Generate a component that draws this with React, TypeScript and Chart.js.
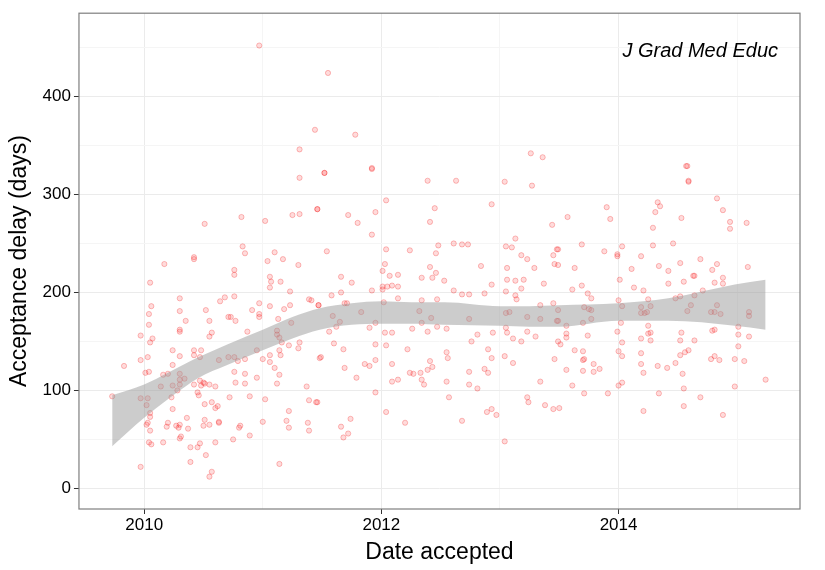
import { useEffect, useRef } from "react";
import { Chart, registerables } from "chart.js";

Chart.register(...registerables);

// acceptance dates (decimal year) and delays (days)
const pointYears = [
  2010.97, 2011.55, 2011.44, 2011.78, 2011.31, 2013.26, 2013.36, 2011.92, 2011.52, 2012.63, 2014.57, 2014.59,
  2011.31, 2010.82, 2010.51, 2011.02, 2011.25, 2011.31, 2011.46, 2010.83, 2010.85, 2010.42, 2010.42, 2010.17,
  2011.10, 2011.17, 2011.04, 2011.30, 2010.76, 2010.76, 2011.06, 2011.07, 2011.06, 2011.15, 2010.05, 2011.23,
  2010.30, 2010.68, 2010.64, 2010.76, 2010.06, 2010.04, 2010.04, 2010.30, 2010.52, 2010.97, 2011.06, 2010.91,
  2010.97, 2010.97, 2011.18, 2011.23, 2011.39, 2011.41, 2011.47, 2010.71, 2010.73, 2010.77, 2010.35, 2010.55,
  2011.13, 2011.24, 2009.97, 2010.07, 2010.05, 2010.30, 2010.30, 2010.57, 2010.55, 2010.87, 2011.12, 2011.12,
  2011.14, 2011.16, 2011.22, 2011.31, 2011.30, 2011.48, 2009.97, 2010.03, 2010.24, 2010.30, 2010.42, 2010.48,
  2010.42, 2010.47, 2010.63, 2010.71, 2010.76, 2010.79, 2010.85, 2010.95, 2011.00, 2011.06, 2011.06, 2011.10,
  2011.14, 2011.15, 2009.83, 2010.01, 2010.04, 2010.24, 2010.16, 2010.20, 2010.30, 2010.30, 2010.34, 2010.30,
  2010.24, 2010.14, 2010.28, 2010.42, 2010.47, 2010.50, 2010.51, 2010.55, 2010.60, 2010.48, 2010.76, 2010.77,
  2010.85, 2010.85, 2010.95, 2011.14, 2011.12, 2011.37, 2009.73, 2009.97, 2010.03, 2010.02, 2010.23, 2010.24,
  2010.45, 2010.46, 2010.51, 2010.57, 2010.62, 2010.60, 2010.72, 2010.89, 2011.02, 2011.39, 2011.45, 2010.05,
  2010.05, 2010.03, 2010.02, 2010.05, 2010.20, 2010.19, 2010.27, 2010.29, 2010.30, 2010.36, 2010.37, 2010.30,
  2010.31, 2010.51, 2010.50, 2010.55, 2010.63, 2010.63, 2010.80, 2010.81, 2010.89, 2011.00, 2011.20, 2011.22,
  2011.22, 2011.38, 2011.39, 2010.04, 2010.06, 2010.16, 2010.39, 2010.45, 2010.47, 2010.52, 2010.60, 2010.75,
  2009.97, 2010.39, 2010.57, 2010.55, 2011.14,
  2011.52, 2011.92, 2012.39, 2013.04, 2013.27, 2012.04, 2011.46, 2011.72, 2011.80, 2011.95, 2011.92, 2012.45,
  2012.41, 2012.93, 2013.44, 2011.54, 2012.04, 2012.24, 2012.48, 2012.46, 2012.61, 2012.68, 2012.73, 2013.05,
  2013.10, 2013.13, 2013.18, 2013.23, 2013.29, 2013.45, 2013.46, 2013.48, 2012.01, 2012.03, 2012.07, 2012.14,
  2012.41, 2012.46, 2012.43, 2012.34, 2012.53, 2012.84, 2013.06, 2013.06, 2013.13, 2013.20, 2013.18, 2013.37,
  2011.66, 2011.75, 2011.66, 2011.58, 2011.47, 2011.92, 2012.01, 2012.01, 2012.05, 2012.09, 2012.14, 2012.14,
  2012.02, 2012.61, 2012.68, 2012.74, 2012.87, 2012.93, 2013.05, 2013.13, 2013.14, 2012.34, 2012.47, 2011.69,
  2011.71, 2011.83, 2011.59, 2011.65, 2011.62, 2011.56, 2011.95, 2011.90, 2012.32, 2012.34, 2012.42, 2012.03,
  2012.09, 2012.26, 2012.39, 2012.47, 2012.55, 2012.74, 2012.81, 2012.94, 2012.76, 2013.05, 2013.08, 2013.05,
  2013.06, 2013.11, 2013.18, 2013.23, 2013.34, 2013.34, 2013.48, 2013.45, 2013.23, 2013.30, 2011.49, 2011.60,
  2011.68, 2011.69, 2011.79, 2011.86, 2011.90, 2011.95, 2011.95, 2011.95, 2012.04, 2012.22, 2012.09, 2012.09,
  2012.14, 2012.04, 2012.20, 2012.24, 2012.27, 2012.33, 2012.36, 2012.34, 2012.39, 2012.41, 2012.43, 2012.55,
  2012.56, 2012.55, 2012.57, 2012.68, 2012.74, 2012.74, 2012.81, 2012.87, 2012.90, 2012.90, 2012.93, 2012.89,
  2012.93, 2012.97, 2013.04, 2013.11, 2013.23, 2013.24, 2013.38, 2013.45, 2013.46, 2013.34, 2013.49, 2011.46,
  2011.66, 2011.68, 2011.72, 2011.74, 2013.04,
  2014.58, 2014.59, 2013.90, 2013.93, 2013.57, 2014.33, 2014.35, 2014.31, 2014.29, 2014.29, 2014.46, 2014.53,
  2014.83, 2014.88, 2014.94, 2014.94, 2015.08, 2013.69, 2013.88, 2013.99, 2013.99, 2014.03, 2014.19, 2013.63,
  2014.11, 2014.34, 2014.42, 2014.42, 2014.52, 2014.55, 2014.63, 2014.64, 2014.69, 2014.79, 2014.83, 2014.81,
  2014.88, 2014.88, 2015.09, 2013.49, 2013.49, 2013.69, 2013.61, 2013.74, 2013.77, 2014.01, 2014.13, 2014.21,
  2014.00, 2014.25, 2013.71, 2013.75, 2013.77, 2013.77, 2014.03, 2014.19, 2014.19, 2014.24, 2014.22, 2014.27,
  2014.48, 2014.52, 2014.64, 2014.71, 2014.58, 2014.61, 2014.83, 2014.78, 2014.81, 2014.86, 2015.10, 2015.10,
  2013.49, 2013.49, 2013.70, 2013.56, 2013.56, 2013.56, 2013.74, 2014.02, 2013.99, 2014.25, 2014.25, 2014.27,
  2014.19, 2014.27, 2014.03, 2014.53, 2014.52, 2014.64, 2014.79, 2014.81, 2015.01, 2015.01, 2015.10, 2013.51,
  2013.63, 2013.70, 2013.70, 2013.71, 2013.79, 2013.84, 2013.79, 2013.70, 2013.56, 2014.00, 2014.03, 2014.19,
  2014.19, 2014.21, 2014.33, 2014.41, 2014.48, 2014.52, 2014.56, 2014.59, 2014.54, 2014.78, 2014.81, 2014.85,
  2014.98, 2015.06, 2015.01, 2013.61, 2013.71, 2013.91, 2014.00, 2014.03, 2014.34, 2014.55, 2014.69, 2014.98,
  2015.24, 2013.50, 2014.21, 2014.55, 2014.88,
];

const pointDays = [
  452, 424, 366, 361, 346, 342, 338, 327, 322, 314, 329, 314,
  317, 277, 270, 273, 279, 280, 285, 247, 240, 236, 234, 229,
  241, 234, 232, 228, 223, 218, 216, 211, 205, 211, 210, 201,
  194, 195, 191, 196, 186, 178, 167, 181, 182, 189, 186, 182,
  178, 175, 183, 187, 193, 192, 187, 175, 175, 171, 171, 171,
  173, 169, 156, 153, 149, 162, 160, 159, 155, 160, 161, 157,
  154, 149, 146, 149, 143, 133, 131, 134, 141, 135, 141, 141,
  136, 134, 131, 134, 134, 130, 132, 141, 132, 136, 129, 123,
  141, 136, 125, 118, 119, 126, 116, 117, 117, 111, 112, 106,
  105, 104, 100, 106, 110, 108, 107, 106, 104, 105, 119, 108,
  117, 107, 113, 116, 107, 104, 94, 92, 92, 85, 93, 81,
  98, 95, 86, 88, 84, 82, 93, 94, 91, 90, 88, 77,
  73, 67, 65, 59, 67, 63, 64, 62, 65, 72, 61, 51,
  53, 70, 64, 65, 68, 67, 62, 64, 54, 68, 69, 79,
  62, 67, 59, 47, 45, 47, 42, 42, 46, 34, 47, 50,
  22, 27, 17, 12, 25,
  322, 326, 314, 313, 309, 294, 285, 279, 271, 282, 259, 286,
  272, 290, 269, 242, 244, 243, 248, 240, 250, 249, 249, 247,
  246, 255, 238, 234, 225, 238, 229, 244, 222, 229, 217, 218,
  226, 220, 215, 215, 212, 227, 225, 213, 212, 213, 204, 209,
  216, 210, 200, 197, 187, 202, 206, 203, 206, 207, 206, 194,
  190, 202, 198, 198, 199, 208, 201, 197, 193, 192, 193, 189,
  189, 180, 176, 170, 165, 160, 169, 164, 181, 169, 174, 159,
  159, 163, 160, 165, 163, 173, 157, 159, 150, 179, 180, 164,
  159, 153, 150, 175, 173, 187, 171, 189, 160, 155, 134, 148,
  142, 123, 113, 127, 125, 131, 147, 98, 146, 142, 127, 109,
  111, 78, 67, 118, 117, 118, 106, 111, 121, 130, 124, 139,
  133, 109, 93, 69, 119, 106, 102, 122, 118, 142, 133, 78,
  81, 75, 135, 128, 93, 88, 85, 81, 132, 109, 150, 88,
  63, 52, 56, 71, 48,
  329, 313, 287, 275, 277, 292, 288, 282, 266, 248, 250, 276,
  296, 284, 272, 265, 271, 249, 242, 239, 237, 247, 237, 225,
  224, 227, 222, 209, 230, 211, 217, 217, 234, 223, 229, 210,
  215, 209, 226, 244, 228, 207, 203, 199, 194, 213, 205, 202,
  192, 193, 185, 183, 182, 173, 186, 185, 179, 180, 179, 186,
  194, 196, 197, 202, 181, 187, 187, 180, 180, 178, 180, 176,
  182, 171, 169, 166, 158, 154, 156, 169, 160, 166, 158, 159,
  153, 151, 149, 159, 151, 151, 161, 162, 165, 157, 155, 147,
  141, 140, 131, 132, 127, 122, 119, 120, 121, 140, 135, 138,
  127, 118, 125, 123, 128, 136, 139, 141, 117, 132, 135, 131,
  132, 130, 145, 105, 97, 97, 105, 108, 97, 102, 93, 104,
  111, 82, 79, 84, 75,
];

// loess confidence band
const bandYears = [2009.73, 2010.0, 2010.2, 2010.46, 2010.7, 2011.0, 2011.25, 2011.48, 2011.75, 2012.0, 2012.25, 2012.53, 2013.0, 2013.25, 2013.5, 2014.0, 2014.42, 2014.98, 2015.24];
const bandUpper = [95, 106, 118, 134, 147, 162, 175, 184, 189, 191, 190, 190, 186, 186, 187, 189, 194, 208, 213];
const bandLower = [43, 72, 91, 113, 126, 141, 153, 162, 167, 168, 168, 167, 166, 165, 165, 171, 171, 166, 162];

const xTickLabels = ["2010", "2012", "2014"];
const yTickLabels = ["0", "100", "200", "300", "400"];

const FONT = "'Liberation Sans', Arial, sans-serif";

export default function App() {
  const canvasRef = useRef<HTMLCanvasElement>(null);
  const chartRef = useRef<Chart | null>(null);

  useEffect(() => {
    document.body.style.margin = "0";
    if (!canvasRef.current) return;
    if (chartRef.current) chartRef.current.destroy();

    const frame = {
      id: "frame",
      afterDraw(chart: any) {
        const { ctx, chartArea: a } = chart;
        ctx.save();
        ctx.strokeStyle = "#7f7f7f";
        ctx.lineWidth = 1.2;
        ctx.strokeRect(a.left, a.top, a.right - a.left, a.bottom - a.top);
        ctx.fillStyle = "#000";
        ctx.font = `italic 20px ${FONT}`;
        ctx.textAlign = "right";
        ctx.textBaseline = "middle";
        ctx.fillText("J Grad Med Educ", a.right - 22, a.top + 38);
        ctx.restore();
      },
    };

    const isMajorX = (v: number) => xTickLabels.includes(String(Math.round(v)));
    const isMajorY = (v: number) => yTickLabels.includes(String(Math.round(v)));

    chartRef.current = new Chart(canvasRef.current, {
      type: "scatter",
      data: {
        datasets: [
          {
            type: "line",
            data: bandYears.map((x, i) => ({ x, y: bandLower[i] })),
            borderWidth: 0,
            pointRadius: 0,
            cubicInterpolationMode: "monotone",
            fill: false,
          },
          {
            type: "line",
            data: bandYears.map((x, i) => ({ x, y: bandUpper[i] })),
            borderWidth: 0,
            pointRadius: 0,
            cubicInterpolationMode: "monotone",
            backgroundColor: "rgba(153,153,153,0.5)",
            fill: "-1",
          },
          {
            data: pointYears.map((x, i) => ({ x, y: pointDays[i] })),
            pointRadius: 2.6,
            borderWidth: 1,
            borderColor: "rgba(240,0,0,0.25)",
            backgroundColor: "rgba(255,0,0,0.14)",
          },
        ],
      },
      options: {
        animation: false,
        responsive: false,
        layout: { padding: { top: -11, right: 25, left: 6, bottom: 4 } },
        plugins: { legend: { display: false }, tooltip: { enabled: false } },
        scales: {
          x: {
            type: "linear",
            min: 2009.45,
            max: 2015.53,
            afterBuildTicks: (s: any) => {
              s.ticks = [2010, 2011, 2012, 2013, 2014, 2015].map((v) => ({ value: v }));
            },
            border: { display: false },
            grid: {
              color: (c: any) => (isMajorX(c.tick.value) ? "#ebebeb" : "#f5f5f5"),
              tickColor: (c: any) => (isMajorX(c.tick.value) ? "#333" : "rgba(0,0,0,0)"),
              tickLength: 5,
            },
            ticks: {
              color: "#000",
              font: { family: FONT, size: 17 },
              padding: 1,
              maxRotation: 0,
              autoSkip: false,
              callback: (v: any) => (isMajorX(v) ? String(Math.round(v)) : ""),
            },
            title: { display: true, text: "Date accepted", color: "#000", font: { family: FONT, size: 23 }, padding: { top: 2, bottom: 0 } },
          },
          y: {
            min: -21,
            max: 485,
            afterBuildTicks: (s: any) => {
              s.ticks = [0, 50, 100, 150, 200, 250, 300, 350, 400, 450].map((v) => ({ value: v }));
            },
            border: { display: false },
            grid: {
              color: (c: any) => (isMajorY(c.tick.value) ? "#ebebeb" : "#f5f5f5"),
              tickColor: (c: any) => (isMajorY(c.tick.value) ? "#333" : "rgba(0,0,0,0)"),
              tickLength: 5,
            },
            ticks: {
              color: "#000",
              font: { family: FONT, size: 17 },
              padding: 3,
              autoSkip: false,
              callback: (v: any) => (isMajorY(v) ? String(Math.round(v)) : ""),
            },
            title: { display: true, text: "Acceptance delay (days)", color: "#000", font: { family: FONT, size: 23 }, padding: { top: 0, bottom: 6 } },
          },
        },
      },
      plugins: [frame],
    } as any);

    return () => {
      if (chartRef.current) chartRef.current.destroy();
      chartRef.current = null;
    };
  }, []);

  return <canvas ref={canvasRef} width={825} height={570} style={{ display: "block" }} />;
}
